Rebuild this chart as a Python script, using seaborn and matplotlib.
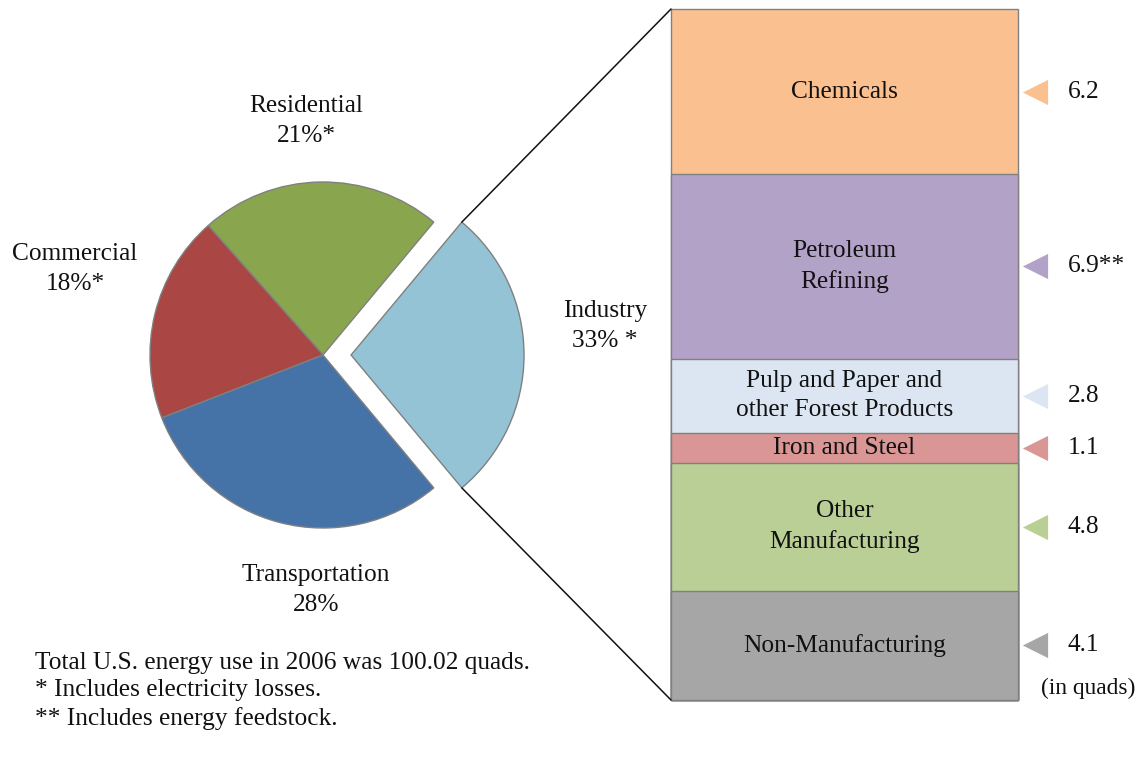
import numpy as np
import matplotlib
matplotlib.use("Agg")
import matplotlib.pyplot as plt
import seaborn as sns
from matplotlib.patches import ConnectionPatch

# ---------------- data ----------------
sector_names = ["Industry", "Residential", "Commercial", "Transportation"]
sector_labels = ["Industry\n33% *", "Residential\n21%*", "Commercial\n18%*", "Transportation\n28%"]
other_sector_quads = [21, 18, 28]          # Residential, Commercial, Transportation
sector_colors = ["#93C3D5", "#89A54E", "#AA4643", "#4572A7"]

subsectors = ["Chemicals", "Petroleum\nRefining", "Pulp and Paper and\nother Forest Products",
              "Iron and Steel", "Other\nManufacturing", "Non-Manufacturing"]
sub_quads = [6.2, 6.9, 2.8, 1.1, 4.8, 4.1]
sub_value_labels = ["6.2", "6.9**", "2.8", "1.1", "4.8", "4.1"]
sub_colors = ["#FAC090", "#B3A2C7", "#DCE6F2", "#D99694", "#BACF95", "#A6A6A6"]

footnote = ("Total U.S. energy use in 2006 was 100.02 quads.\n"
            "* Includes electricity losses.\n"
            "** Includes energy feedstock.")

# ---------------- style ----------------
sns.set_theme(style="white")
plt.rcParams['font.family'] = ['Liberation Serif', 'DejaVu Serif']
FS = 18.3
TXT = "#111111"
EDGE = "#808080"

W, H = 1147, 759
fig = plt.figure(figsize=(W / 100, H / 100), dpi=100)
fig.patch.set_facecolor("white")

# main axes in pixel units (y up)
ax = fig.add_axes([0, 0, 1, 1])
pie_vals = [sum(sub_quads)] + other_sector_quads
total = sum(pie_vals)
R = 173
ind_angle = 360.0 * pie_vals[0] / total
wedges, _ = ax.pie(pie_vals, colors=sector_colors, startangle=-ind_angle / 2,
                   counterclock=True, center=(323, H - 355), radius=R,
                   explode=[0.162 * R, 0, 0, 0],
                   wedgeprops=dict(edgecolor=EDGE, linewidth=1.0))
ax.set_xlim(0, W)
ax.set_ylim(0, H)
ax.set_aspect("auto")
ax.axis("off")

# pie labels
label_pos = {"Industry": (605, 326), "Residential": (306, 121),
             "Commercial": (75, 269), "Transportation": (316, 590)}
for name, lab in zip(sector_names, sector_labels):
    x, y = label_pos[name]
    ax.text(x, H - y, lab, ha="center", va="center", fontsize=FS, color=TXT,
            linespacing=1.42)

ax.text(35, H - 691, footnote, ha="left", va="center", fontsize=FS,
        color=TXT, linespacing=1.33)

# ---------------- stacked bar ----------------
ax_bar = fig.add_axes([671 / W, (H - 700) / H, 347 / W, 691 / H])
bottom_up = list(range(len(sub_quads)))[::-1]          # Non-Manufacturing first
cum = np.cumsum([sub_quads[i] for i in bottom_up])
bottoms = dict(zip(bottom_up, cum - np.array([sub_quads[i] for i in bottom_up])))
# draw tallest cumulative first, then overlay shorter ones (seaborn stacking)
for k in range(len(bottom_up) - 1, -1, -1):
    i = bottom_up[k]
    sns.barplot(x=[0], y=[cum[k]], color=sub_colors[i], saturation=1, width=1,
                edgecolor=EDGE, linewidth=1.0, ax=ax_bar)
ax_bar.set_xlim(-0.5, 0.5)
ax_bar.set_ylim(0, sum(sub_quads))
ax_bar.axis("off")
for p in ax_bar.patches:
    p.set_clip_on(False)

for i, (name, q) in enumerate(zip(subsectors, sub_quads)):
    mid = bottoms[i] + q / 2
    ax_bar.text(0, mid, name, ha="center", va="center", fontsize=FS, color=TXT,
                linespacing=1.42)
    ax_bar.scatter([0.548], [mid], marker="<", s=330, color=sub_colors[i],
                   clip_on=False, linewidths=0, zorder=5)
    ax_bar.text(0.643, mid, sub_value_labels[i], ha="left", va="center",
                fontsize=FS, color=TXT)
ax_bar.text(1.202, 0.017, "(in quads)", ha="center", va="center",
            fontsize=16.8, color=TXT, transform=ax_bar.transAxes)

# ---------------- connector lines ----------------
w = wedges[0]
cx, cy = w.center
t1, t2 = np.deg2rad(w.theta1), np.deg2rad(w.theta2)
top_corner = (cx + w.r * np.cos(t2), cy + w.r * np.sin(t2))
bot_corner = (cx + w.r * np.cos(t1), cy + w.r * np.sin(t1))
for corner, target in [(top_corner, (0, 1)), (bot_corner, (0, 0))]:
    con = ConnectionPatch(xyA=corner, coordsA=ax.transData,
                          xyB=target, coordsB=ax_bar.transAxes,
                          color="#111111", linewidth=1.1)
    fig.add_artist(con)

fig.savefig("out.png", dpi=100, facecolor="white")
